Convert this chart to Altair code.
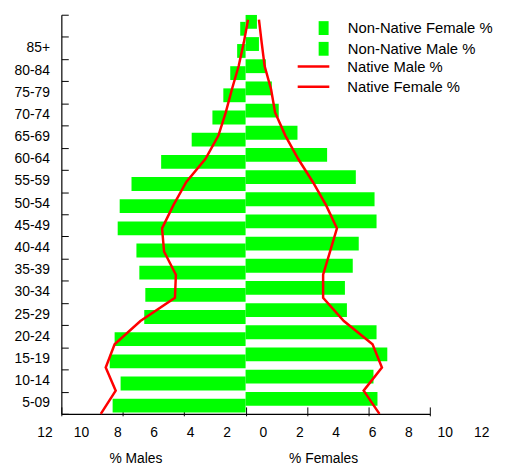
import altair as alt
import pandas as pd

# Categories, top band first (the top band carries no label in the source)
age_labels = [" ", "85+", "80-84", "75-79", "70-74", "65-69", "60-64", "55-59",
              "50-54", "45-49", "40-44", "35-39", "30-34", "25-29", "20-24",
              "15-19", "10-14", "5-09"]

# Non-native bars (male drawn to the left as negative values)
non_native_female = [0.74, 0.87, 1.32, 1.71, 2.16, 3.38, 5.31, 7.18, 8.40,
                     8.53, 7.37, 6.98, 6.47, 6.60, 8.53, 9.23, 8.33, 8.59]
non_native_male = [-0.35, -0.55, -1.00, -1.45, -2.16, -3.51, -5.50, -7.43, -8.20,
                   -8.33, -7.11, -6.92, -6.53, -6.60, -8.53, -8.85, -8.14, -8.66]

# Native lines, top point first
native_male = [0.16, -0.12, -0.45, -0.89, -1.29, -1.77, -2.61, -3.86, -4.70,
               -5.44, -5.31, -4.54, -4.60, -6.85, -8.53, -9.11, -8.46, -9.43]
native_female = [0.87, 1.05, 1.24, 1.66, 1.92, 2.59, 3.42, 4.38, 5.24,
                 5.95, 5.50, 5.05, 5.05, 6.40, 8.27, 8.88, 7.69, 8.72]

tick_values = [-12, -8, -4, 0, 4, 8, 12]
label_values = [-12, -10, -8, -6, -4, -2, 0, 2, 4, 6, 8, 10, 12]

bar_series = ["Non-Native Female %", "Non-Native Male %"]
line_series = ["Native Male %", "Native Female %"]

FONT = "Liberation Sans"
W, H = 373, 404

f_df = pd.DataFrame({"age": age_labels, "value": non_native_female, "series": bar_series[0]})
m_df = pd.DataFrame({"age": age_labels, "value": non_native_male, "series": bar_series[1]})
l_df = pd.concat([
    pd.DataFrame({"age": age_labels, "value": native_male, "series": line_series[0], "idx": range(len(age_labels))}),
    pd.DataFrame({"age": age_labels, "value": native_female, "series": line_series[1], "idx": range(len(age_labels))}),
])
lab_df = pd.DataFrame({"v": label_values})

x_scale = alt.Scale(domain=[-12, 12], nice=False, zero=False)
y_band = alt.Scale(domain=age_labels, paddingInner=0, paddingOuter=0)
bar_color = alt.Scale(domain=bar_series, range=["#00ff00", "#00ff00"])
line_color = alt.Scale(domain=line_series, range=["#ff0000", "#ff0000"])

x_tick_axis = alt.Axis(orient="bottom", values=tick_values, labels=False, domain=False,
                       ticks=True, tickSize=9, tickColor="#000", tickWidth=1,
                       offset=-7, grid=False, title="% Males", titleX=75, titleY=56,
                       titleAlign="center", titleBaseline="alphabetic", titleFont=FONT,
                       titleFontSize=14, titleFontWeight="normal", titleColor="#000")
y_axis = alt.Axis(orient="left", domain=False, ticks=True, tickBand="extent", tickSize=7,
                  tickColor="#000", tickWidth=1, offset=-7, labelPadding=12,
                  labelFont=FONT, labelFontSize=14, labelColor="#000", title=None, grid=False)

bar_legend = alt.Legend(orient="none", legendX=258, legendY=6, title=None,
                        symbolType="M-0.72,-1H0.72V1H-0.72Z", symbolSize=196,
                        symbolStrokeWidth=0, labelFont=FONT, labelFontSize=15,
                        labelColor="#000", labelOffset=17, rowPadding=5, padding=0)
line_legend = alt.Legend(orient="none", legendX=247.75, legendY=45, title=None,
                         symbolType="M-2.667,0H2.667", symbolSize=144, symbolStrokeWidth=2.5,
                         labelFont=FONT, labelFontSize=15, labelColor="#000",
                         labelOffset=26.75, rowPadding=4.5, padding=0)

bars_f = alt.Chart(f_df).mark_bar(height=14, yOffset=-4).encode(
    x=alt.X("value:Q", scale=x_scale, axis=x_tick_axis, stack=None),
    y=alt.Y("age:N", scale=y_band, axis=y_axis, sort=None),
    color=alt.Color("series:N", scale=bar_color, legend=bar_legend),
)
bars_m = alt.Chart(m_df).mark_bar(height=14, yOffset=3).encode(
    x=alt.X("value:Q", scale=x_scale, axis=x_tick_axis, stack=None),
    y=alt.Y("age:N", scale=y_band, axis=y_axis, sort=None),
    color=alt.Color("series:N", scale=bar_color, legend=bar_legend),
)
bars = alt.layer(bars_f, bars_m)

lines = alt.Chart(l_df).mark_line(strokeWidth=2.5).encode(
    x=alt.X("value:Q", scale=x_scale,
            axis=alt.Axis(orient="bottom", domain=True, domainColor="#000", domainWidth=1.2,
                          ticks=False, labels=False, title=None, grid=False)),
    y=alt.Y("age:N", sort=None,
            scale=alt.Scale(type="point", domain=age_labels, padding=0.1065, align=1),
            axis=alt.Axis(orient="left", domain=True, domainColor="#000", domainWidth=1.2,
                          ticks=False, labels=False, title=None, grid=False)),
    color=alt.Color("series:N", scale=line_color, legend=line_legend),
    order=alt.Order("idx:Q"),
)

labels = alt.Chart(lab_df).mark_point(opacity=0).encode(
    x=alt.X("v:Q", scale=alt.Scale(domain=[-12, 12], range=[-17, 425], nice=False, zero=False),
            axis=alt.Axis(orient="bottom", values=label_values, labelExpr="'' + abs(datum.value)",
                          domain=False, ticks=False, tickSize=0, labelPadding=12,
                          labelFont=FONT, labelFontSize=14, labelColor="#000",
                          labelFlush=False, labelOverlap=False, grid=False,
                          title="% Females", titleX=265, titleY=49, titleAlign="center",
                          titleBaseline="alphabetic", titleFont=FONT, titleFontSize=14,
                          titleFontWeight="normal", titleColor="#000")),
)

chart = alt.layer(bars, lines, labels).resolve_scale(
    x="independent", y="independent", color="independent"
).properties(
    width=W, height=H,
    autosize=alt.AutoSizeParams(type="none"),
    padding={"left": 54, "top": 4, "right": 68, "bottom": 50},
    background="#ffffff",
).configure_view(stroke=None)

chart.save("out.html", embed_options={"renderer": "svg", "actions": False})
